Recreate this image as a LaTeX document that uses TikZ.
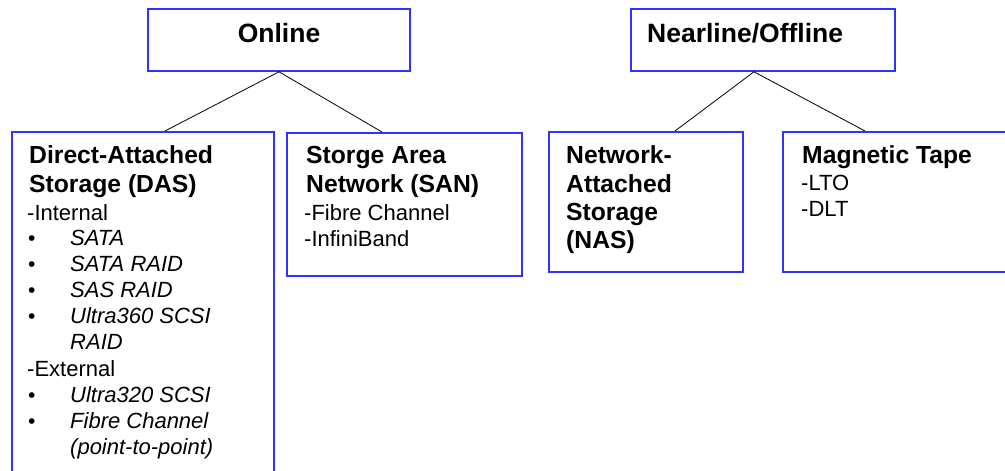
\documentclass[tikz,border=0pt]{standalone}
\usepackage{fontspec}
\setmainfont{Liberation Sans}
\newcommand\rowline[2]{\hbox{\vrule height #1 depth 0pt width 0pt\smash{#2}}}
\newcommand\bul[1]{\makebox[43pt][l]{\hspace{1pt}{\fontsize{21}{21}\selectfont •}}\textit{#1}}
\newcommand\bulc[1]{\makebox[43pt][l]{}\textit{#1}}
\newcommand\btitle{\fontsize{24.7}{24.7}\selectfont\bfseries}
\begin{document}
\begin{tikzpicture}[x=1pt,y=-1pt,
  box/.style={draw=boxblue, line width=1.6pt, rectangle, inner sep=0pt},
  top/.style={font=\fontsize{26.5}{26.5}\selectfont\bfseries, inner sep=0pt},
  body/.style={inner sep=0pt, anchor=base west, font=\fontsize{22}{22}\selectfont},
  link/.style={draw=black, line width=0.8pt}]
\definecolor{boxblue}{RGB}{50,50,255}
\useasboundingbox (0,0) rectangle (1005,471);
\clip (0,0) rectangle (1005,471);
\fill[white] (0,0) rectangle (1005,471);

% top boxes
\node[box, minimum width=262pt, minimum height=62pt] (online) at (279,40) {};
\node[box, minimum width=264pt, minimum height=62pt] (near) at (763,40) {};
\node[top, anchor=base] (onlinet) at (279,42) {Online};
\node[top, anchor=base west] (neart) at (647,42) {Nearline/Offline};

% lower boxes
\node[box, minimum width=262pt, minimum height=380pt, anchor=north west] (das) at (11,131) {};
\node[box, minimum width=235pt, minimum height=143pt, anchor=north west] (san) at (286,132) {};
\node[box, minimum width=194pt, minimum height=140pt, anchor=north west] (nas) at (548,131) {};
\node[box, minimum width=250pt, minimum height=140pt, anchor=north west] (tape) at (782,131) {};

% connectors
\draw[link] (online.south) -- (das.north -| 165,0);
\draw[link] (online.south) -- (san.north -| 382,0);
\draw[link] (near.south -| 754,0) -- (nas.north -| 675,0);
\draw[link] (near.south -| 754,0) -- (tape.north -| 865,0);

% texts
\node[body] (dast) at (27,163) {\vtop{\offinterlineskip
  \rowline{0pt}{\btitle\hspace{2pt}Direct-Attached}
  \rowline{29pt}{\btitle\hspace{2pt}Storage (DAS)}
  \rowline{28pt}{-Internal}
  \rowline{25pt}{\bul{SATA}}
  \rowline{26pt}{\bul{SATA RAID}}
  \rowline{26pt}{\bul{SAS RAID}}
  \rowline{26pt}{\bul{Ultra360 SCSI}}
  \rowline{27pt}{\bulc{RAID}}
  \rowline{27pt}{-External}
  \rowline{26pt}{\bul{Ultra320 SCSI}}
  \rowline{26pt}{\bul{Fibre Channel}}
  \rowline{25pt}{\bulc{(point-to-point)}}}};

\node[body] (sant) at (304,163) {\vtop{\offinterlineskip
  \rowline{0pt}{\btitle\hspace{2pt}Storge Area}
  \rowline{29pt}{\btitle\hspace{2pt}Network (SAN)}
  \rowline{28pt}{-Fibre Channel}
  \rowline{26pt}{-InfiniBand}}};

\node[body] (nast) at (566,163) {\vtop{\offinterlineskip\btitle
  \rowline{0pt}{Network-}
  \rowline{29pt}{Attached}
  \rowline{28pt}{Storage}
  \rowline{28pt}{(NAS)}}};

\node[body] (tapet) at (801,163) {\vtop{\offinterlineskip
  \rowline{0pt}{\btitle\hspace{1pt}Magnetic Tape}
  \rowline{27pt}{-LTO}
  \rowline{26pt}{-DLT}}};
\end{tikzpicture}
\end{document}
